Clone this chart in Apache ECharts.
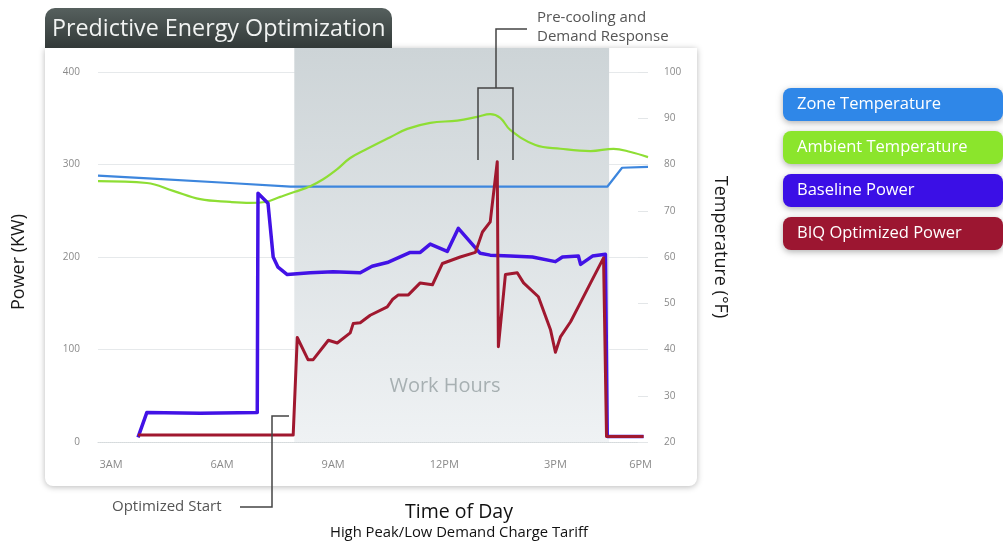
<!DOCTYPE html>
<html><head><meta charset="utf-8">
<script src="https://cdn.jsdelivr.net/npm/echarts@6/dist/echarts.min.js"></script>
<style>
html,body{margin:0;padding:0;background:#fff;}
#card{position:absolute;left:45px;top:48px;width:652px;height:438px;background:#fff;border-radius:0 0 8px 8px;box-shadow:0 1px 6px rgba(0,0,0,0.28);}
#chart{position:absolute;left:0;top:0;width:1003px;height:544px;}
</style></head><body>
<div id="card"></div>
<div id="chart"></div>
<script>
// ---- data (x in hours of day) ----
const xTickHours = [3, 6, 9, 12, 15, 17.3];
const xTickLabels = ['3AM', '6AM', '9AM', '12PM', '3PM', '6PM'];
const workStart = 7.95, workEnd = 16.45;

const zoneHours = [2.65, 4.0, 6.2, 7.85, 16.4, 16.8, 17.5];
const zoneTemp  = [77.6, 77.0, 76.0, 75.2, 75.2, 79.3, 79.5];

const ambientHours = [2.65, 3.97, 4.68, 5.41, 6.22, 6.76, 7.16, 7.57, 7.97, 8.38, 8.73, 9.11, 9.46, 9.92, 10.54, 11.0, 11.62, 12.35, 12.89, 13.24, 13.51, 13.78, 14.46, 15.14, 15.95, 16.57, 17.03, 17.5];
const ambientTemp  = [76.4, 76.0, 74.3, 72.5, 71.9, 71.7, 71.9, 73.0, 74.1, 75.3, 76.8, 79.0, 81.4, 83.4, 85.9, 87.7, 89.0, 89.5, 90.3, 90.9, 90.1, 87.5, 84.2, 83.4, 82.9, 83.4, 82.7, 81.6];

const baseHours = [3.73, 3.97, 5.41, 6.95, 6.97, 7.24, 7.38, 7.51, 7.76, 8.38, 9.0, 9.73, 10.05, 10.46, 11.08, 11.35, 11.62, 12.08, 12.38, 12.97, 13.24, 13.78, 14.38, 15.0, 15.19, 15.62, 15.68, 16.0, 16.35, 16.4, 17.38];
const basePower = [5, 32, 31, 32, 269, 258, 200, 189, 181, 183, 184, 183, 190, 194, 205, 205, 214, 206, 231, 204, 202, 201, 200, 195, 200, 201, 192, 201, 203, 6, 6];

const optHours = [3.73, 7.92, 8.03, 8.32, 8.46, 8.87, 9.11, 9.46, 9.54, 9.73, 10.0, 10.46, 10.6, 10.76, 11.03, 11.35, 11.68, 11.95, 12.43, 12.84, 13.03, 13.24, 13.43, 13.46, 13.65, 13.97, 14.14, 14.54, 14.87, 15.0, 15.14, 15.41, 15.68, 15.95, 16.3, 16.38, 17.38];
const optPower = [7.5, 7.5, 113, 89, 89, 110, 107, 118, 128, 129, 137, 146, 154, 159, 159, 172, 170, 193, 200, 205, 227, 238, 303, 103, 181, 183, 172, 157, 121, 97, 114, 130, 151, 172, 199, 6, 6];

const zip = (a, b) => a.map((h, i) => [h, b[i]]);
const FONT = '"Open Sans", "Noto Sans", sans-serif';

const chart = echarts.init(document.getElementById('chart'), null, {renderer: 'canvas'});

const option = {
  backgroundColor: 'transparent',
  animation: false,
  textStyle: {fontFamily: FONT},
  title: {
    text: 'Predictive Energy Optimization',
    left: 47, top: 13,
    textStyle: {color: '#f1f3f2', fontSize: 23.3, fontWeight: 'normal', fontFamily: FONT}
  },
  legend: {
    orient: 'vertical', left: 778, top: 88, itemGap: 10, padding: 0,
    itemWidth: 0, itemHeight: 0, icon: 'none', selectedMode: false,
    data: [
      {name: 'Zone Temperature', textStyle: {backgroundColor: '#2f87e8'}},
      {name: 'Ambient Temperature', textStyle: {backgroundColor: '#8be52c'}},
      {name: 'Baseline Power', textStyle: {backgroundColor: '#3b0fe6'}},
      {name: 'BIQ Optimized Power', textStyle: {backgroundColor: '#9c1631'}}
    ],
    textStyle: {color: '#ffffff', fontSize: 16.5, fontFamily: FONT, width: 192, lineHeight: 17,
      padding: [8, 14], borderRadius: 8,
      shadowColor: 'rgba(0,0,0,0.3)', shadowBlur: 6, shadowOffsetY: 2}
  },
  grid: {left: 98, right: 355, top: 72, bottom: 102},
  xAxis: {
    type: 'value', min: 2.65, max: 17.5,
    axisLine: {show: true, lineStyle: {color: '#d5dadc', type: 'dotted'}},
    axisTick: {show: false},
    splitLine: {show: false},
    axisLabel: {customValues: xTickHours, color: '#8a8a8a', fontSize: 11, margin: 17,
      formatter: v => { const i = xTickHours.findIndex(t => Math.abs(t - v) < 1e-6); return i >= 0 ? xTickLabels[i] : ''; }}
  },
  yAxis: [
    {type: 'value', min: 0, max: 400, interval: 100,
     name: 'Power (KW)', nameLocation: 'middle', nameGap: 70,
     nameTextStyle: {color: '#1a1a1a', fontSize: 18, fontFamily: FONT, padding: [0, 10, 0, 0]},
     axisLine: {show: false}, axisTick: {show: false},
     axisLabel: {color: '#8a8a8a', fontSize: 10, margin: 18},
     splitLine: {lineStyle: {color: '#e6e9eb', width: 1}}},
    {type: 'value', min: 20, max: 100, interval: 10, position: 'right',
     name: 'Temperature (°F)', nameLocation: 'middle', nameGap: 63, nameRotate: -90,
     nameTextStyle: {color: '#1a1a1a', fontSize: 18, fontFamily: FONT, padding: [0, 20, 0, 0]},
     axisLine: {show: false},
     axisTick: {show: true, inside: true, length: 10, lineStyle: {color: '#e3e6e8'}},
     axisLabel: {color: '#8a8a8a', fontSize: 10, margin: 16},
     splitLine: {show: false}}
  ],
  series: [
    {name: 'Zone Temperature', type: 'line', yAxisIndex: 1, showSymbol: false, z: 3,
     lineStyle: {color: '#3d86dd', width: 2.2}, itemStyle: {color: '#3d86dd'},
     data: zip(zoneHours, zoneTemp)},
    {name: 'Ambient Temperature', type: 'line', yAxisIndex: 1, showSymbol: false, smooth: 0.4, z: 3,
     lineStyle: {color: '#8ede34', width: 2.2}, itemStyle: {color: '#8ede34'},
     data: zip(ambientHours, ambientTemp)},
    {name: 'Baseline Power', type: 'line', yAxisIndex: 0, showSymbol: false, z: 4,
     lineStyle: {color: '#4212e6', width: 3.5, join: 'round'}, itemStyle: {color: '#4212e6'},
     data: zip(baseHours, basePower)},
    {name: 'BIQ Optimized Power', type: 'line', yAxisIndex: 0, showSymbol: false, z: 5,
     lineStyle: {color: '#a0182f', width: 3, join: 'round'}, itemStyle: {color: '#a0182f'},
     data: zip(optHours, optPower)}
  ]
};
chart.setOption(option);

const xa = chart.convertToPixel({xAxisIndex: 0}, workStart);
const xb = chart.convertToPixel({xAxisIndex: 0}, workEnd);
const yb = chart.convertToPixel({yAxisIndex: 0}, 0);

chart.setOption({
  graphic: {elements: [
    {type: 'rect', z: 0, shape: {x: 45, y: 8, width: 347, height: 40, r: [10, 10, 0, 0]},
     style: {fill: new echarts.graphic.LinearGradient(0, 0, 0, 1, [{offset: 0, color: '#56605e'}, {offset: 1, color: '#323938'}])}},
    {type: 'rect', z: 1, shape: {x: xa, y: 48, width: xb - xa, height: yb - 48},
     style: {fill: new echarts.graphic.LinearGradient(0, 0, 0, 1, [{offset: 0, color: '#cdd4d7'}, {offset: 1, color: '#eff2f4'}])}},
    {type: 'text', z: 1, style: {text: 'Work Hours', x: 445, y: 386, align: 'center', verticalAlign: 'middle',
      fill: '#a7b0b2', fontSize: 20, fontFamily: FONT}},
    {type: 'text', z: 6, style: {text: 'Pre-cooling and\nDemand Response', x: 537, y: 8, fill: '#555', fontSize: 15, lineHeight: 19, fontFamily: FONT}},
    {type: 'polyline', z: 6, shape: {points: [[527, 29], [496, 29], [496, 88]]}, style: {stroke: '#444', lineWidth: 1.5, fill: null}},
    {type: 'polyline', z: 6, shape: {points: [[478, 160], [478, 88], [513, 88], [513, 160]]}, style: {stroke: '#444', lineWidth: 1.5, fill: null}},
    {type: 'text', z: 6, style: {text: 'Optimized Start', x: 112, y: 507, verticalAlign: 'middle', fill: '#555', fontSize: 15, fontFamily: FONT}},
    {type: 'polyline', z: 6, shape: {points: [[240, 507], [272, 507], [272, 416], [289, 416]]}, style: {stroke: '#444', lineWidth: 1.5, fill: null}},
    {type: 'text', z: 6, style: {text: 'Time of Day', x: 459, y: 512, align: 'center', verticalAlign: 'middle', fill: '#111', fontSize: 19.5, fontFamily: FONT}},
    {type: 'text', z: 6, style: {text: 'High Peak/Low Demand Charge Tariff', x: 459, y: 533, align: 'center', verticalAlign: 'middle', fill: '#111', fontSize: 14.8, fontFamily: FONT}}
  ]}
});
</script>
</body></html>
